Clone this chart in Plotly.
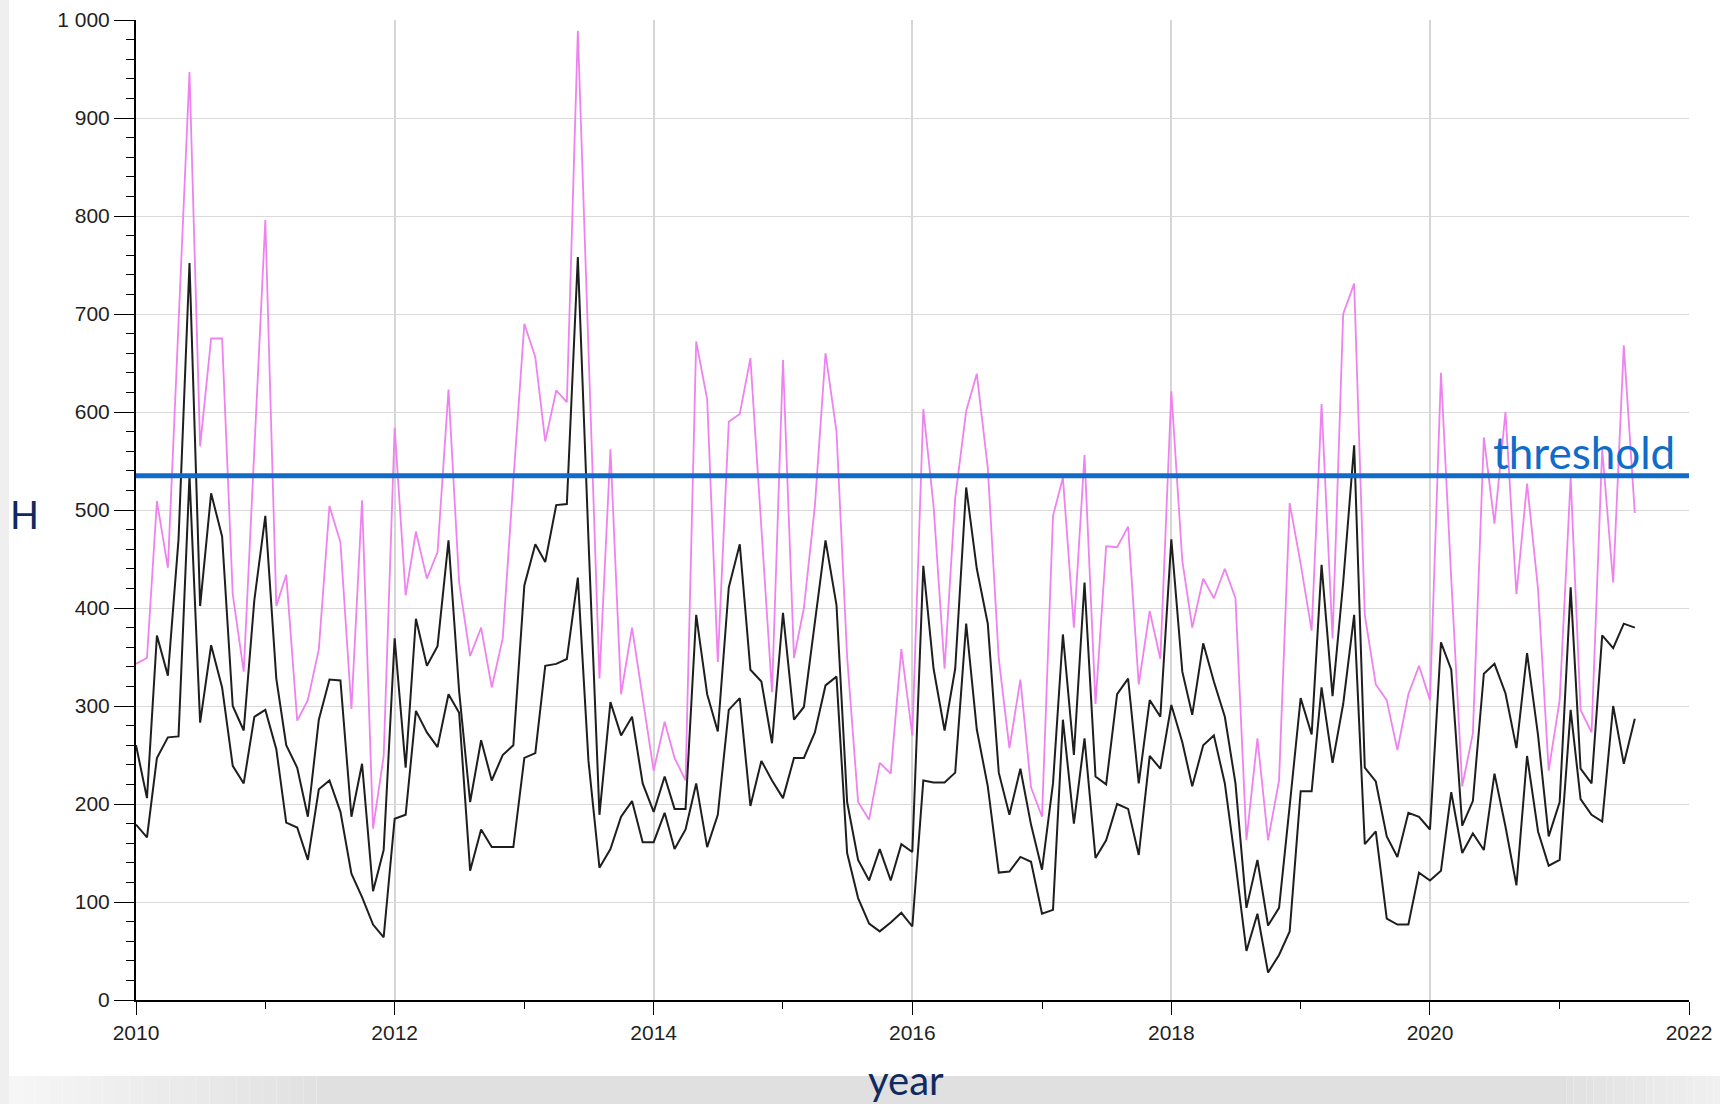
import pandas as pd
import plotly.graph_objects as go

# Canvas and plot-area geometry (pixels)
W, H = 1720, 1104
L, R, T, B = 136, 31, 20, 104  # plot area spans x 136..1689, y 20..1000

# Monthly series, Jan 2010 .. Aug 2021
pink = [343, 349, 509, 441, 690, 947, 565, 675, 675, 414, 335, 565, 796, 402, 434, 285, 306, 358, 504, 467,
        297, 510, 175, 249, 584, 413, 478, 430, 457, 623, 426, 351, 380, 319, 369, 530, 690, 656, 570, 622,
        610, 989, 655, 328, 562, 312, 380, 309, 234, 284, 247, 224, 672, 613, 345, 590, 598, 655, 478, 314,
        653, 349, 400, 504, 660, 580, 350, 202, 184, 242, 231, 358, 270, 603, 504, 338, 512, 601, 639, 543,
        348, 257, 327, 217, 187, 494, 533, 380, 556, 302, 463, 462, 483, 322, 397, 348, 621, 448, 380, 430,
        410, 440, 410, 163, 267, 163, 224, 507, 445, 377, 608, 369, 700, 731, 393, 322, 306, 255, 312, 341,
        306, 640, 430, 218, 272, 574, 486, 600, 414, 527, 419, 234, 306, 533, 296, 273, 562, 426, 668, 497]

upper = [260, 206, 372, 331, 470, 752, 402, 517, 473, 300, 275, 408, 494, 328, 260, 237, 187, 286, 327, 326,
         187, 241, 111, 153, 369, 237, 389, 341, 361, 469, 315, 202, 265, 224, 250, 260, 423, 465, 447, 505,
         506, 758, 470, 189, 304, 270, 289, 221, 192, 228, 195, 195, 393, 312, 274, 421, 465, 337, 325, 262,
         395, 286, 299, 384, 469, 403, 202, 143, 122, 154, 122, 159, 151, 443, 338, 275, 338, 523, 440, 384,
         232, 189, 236, 179, 133, 221, 373, 250, 426, 228, 220, 312, 328, 221, 306, 289, 470, 335, 291, 364,
         325, 289, 221, 94, 143, 76, 94, 198, 308, 271, 444, 310, 426, 566, 237, 223, 167, 146, 191, 187,
         174, 365, 337, 178, 203, 333, 343, 313, 257, 354, 270, 167, 202, 421, 236, 221, 372, 359, 384, 380]

lower = [179, 166, 247, 268, 269, 535, 283, 362, 319, 239, 221, 289, 296, 256, 181, 176, 143, 215, 224, 192,
         129, 105, 77, 64, 185, 189, 295, 273, 258, 312, 293, 132, 174, 156, 156, 156, 247, 252, 341, 343,
         348, 431, 244, 135, 154, 187, 203, 161, 161, 191, 154, 174, 221, 156, 189, 296, 308, 198, 244, 224,
         206, 247, 247, 273, 321, 330, 150, 104, 78, 70, 79, 89, 75, 224, 222, 222, 232, 384, 276, 218,
         130, 131, 146, 141, 88, 92, 286, 180, 267, 145, 163, 200, 195, 148, 249, 236, 301, 263, 218, 260,
         270, 221, 140, 50, 88, 28, 46, 70, 213, 213, 319, 242, 302, 393, 159, 172, 83, 77, 77, 130,
         122, 132, 212, 150, 170, 153, 231, 177, 117, 249, 172, 137, 143, 296, 205, 189, 182, 300, 241, 287]

THRESHOLD = 535

months = pd.date_range("2010-01-01", periods=len(pink), freq="MS")

y_ticks = list(range(0, 1001, 100))
y_labels = ["1 000" if v == 1000 else str(v) for v in y_ticks]
x_major = [f"{yr}-01-01" for yr in range(2010, 2023, 2)]
x_labels = [str(yr) for yr in range(2010, 2023, 2)]
x_minor = [f"{yr}-01-01" for yr in range(2011, 2022, 2)]

PINK = "#ee82ee"
DARK = "#1e1e1e"
BLUE = "#106cc8"
NAVY = "#10295e"
TICK_FONT = dict(family="Liberation Sans, Arial, sans-serif", size=21, color="#1f1f1f")


def px_x(px):
    return (px - L) / (W - L - R)


def px_y(py):
    return (H - B - py) / (H - B - T)


fig = go.Figure()
fig.add_trace(go.Scatter(x=months, y=pink, mode="lines",
                         line=dict(color=PINK, width=1.8), hoverinfo="skip"))
fig.add_trace(go.Scatter(x=months, y=upper, mode="lines",
                         line=dict(color=DARK, width=2), hoverinfo="skip"))
fig.add_trace(go.Scatter(x=months, y=lower, mode="lines",
                         line=dict(color=DARK, width=2), hoverinfo="skip"))

shapes = []
# threshold line across the full plot width
shapes.append(dict(type="line", xref="paper", x0=0, x1=1, yref="y", y0=THRESHOLD, y1=THRESHOLD,
                   line=dict(color=BLUE, width=5), layer="above"))
# slide frame: thin strip on the left edge
shapes.append(dict(type="rect", xref="paper", yref="paper", x0=px_x(0), x1=px_x(9),
                   y0=px_y(H), y1=px_y(0), fillcolor="#efefef", line=dict(width=0), layer="below"))


# grey band along the bottom edge, fading toward both ends
def grey(v):
    v = int(round(v))
    return f"rgb({v},{v},{v})"


band_top, band_bot = 1076, H
steps = 24
for i in range(steps):
    x0 = 9 + i * (330 - 9) / steps
    x1 = 9 + (i + 1) * (330 - 9) / steps
    shade = 246 - (246 - 224) * (i + 0.5) / steps
    shapes.append(dict(type="rect", xref="paper", yref="paper", x0=px_x(x0), x1=px_x(x1),
                       y0=px_y(band_bot), y1=px_y(band_top), fillcolor=grey(shade),
                       line=dict(width=0), layer="below"))
shapes.append(dict(type="rect", xref="paper", yref="paper", x0=px_x(330), x1=px_x(1560),
                   y0=px_y(band_bot), y1=px_y(band_top), fillcolor=grey(224),
                   line=dict(width=0), layer="below"))
for i in range(steps):
    x0 = 1560 + i * (W - 1560) / steps
    x1 = 1560 + (i + 1) * (W - 1560) / steps
    shade = 224 + (240 - 224) * (i + 0.5) / steps
    shapes.append(dict(type="rect", xref="paper", yref="paper", x0=px_x(x0), x1=px_x(x1),
                       y0=px_y(band_bot), y1=px_y(band_top), fillcolor=grey(shade),
                       line=dict(width=0), layer="below"))

annotations = [
    dict(text="threshold", xref="paper", x=px_x(1677), xanchor="right",
         yref="y", y=THRESHOLD, yanchor="bottom", yshift=-4, showarrow=False,
         font=dict(family="Lato, sans-serif", size=44, color=BLUE)),
    dict(text="H", xref="paper", x=px_x(24), xanchor="center",
         yref="paper", y=px_y(514), yanchor="middle", showarrow=False,
         font=dict(family="Lato, sans-serif", size=38, color=NAVY)),
    dict(text="year", xref="paper", x=px_x(906), xanchor="center",
         yref="paper", y=px_y(H), yanchor="bottom", yshift=-2, showarrow=False,
         font=dict(family="Lato, sans-serif", size=40, color=NAVY)),
]

fig.update_layout(
    width=W, height=H, autosize=False,
    margin=dict(l=L, r=R, t=T, b=B, pad=0),
    paper_bgcolor="white", plot_bgcolor="white",
    showlegend=False,
    shapes=shapes,
    annotations=annotations,
    xaxis=dict(
        type="date", range=["2010-01-01", "2022-01-01"], automargin=False,
        tickmode="array", tickvals=x_major, ticktext=x_labels,
        ticks="outside", ticklen=13, tickwidth=1, tickcolor="black",
        showline=True, linecolor="black", linewidth=2,
        showgrid=True, gridcolor="#d6d6d6", gridwidth=2,
        zeroline=False, tickfont=TICK_FONT,
        minor=dict(tickmode="array", tickvals=x_minor, ticks="outside", ticklen=7,
                   tickcolor="black", tickwidth=1, showgrid=False),
    ),
    yaxis=dict(
        range=[0, 1000], automargin=False,
        tickmode="array", tickvals=y_ticks, ticktext=y_labels,
        ticks="outside", ticklen=20, tickwidth=1, tickcolor="black",
        showline=True, linecolor="black", linewidth=2,
        showgrid=True, gridcolor="#d9d9d9", gridwidth=1,
        zeroline=False, tickfont=TICK_FONT,
        minor=dict(tick0=0, dtick=20, ticks="outside", ticklen=8,
                   tickcolor="black", tickwidth=1, showgrid=False),
    ),
)

fig.write_html("out.html")
